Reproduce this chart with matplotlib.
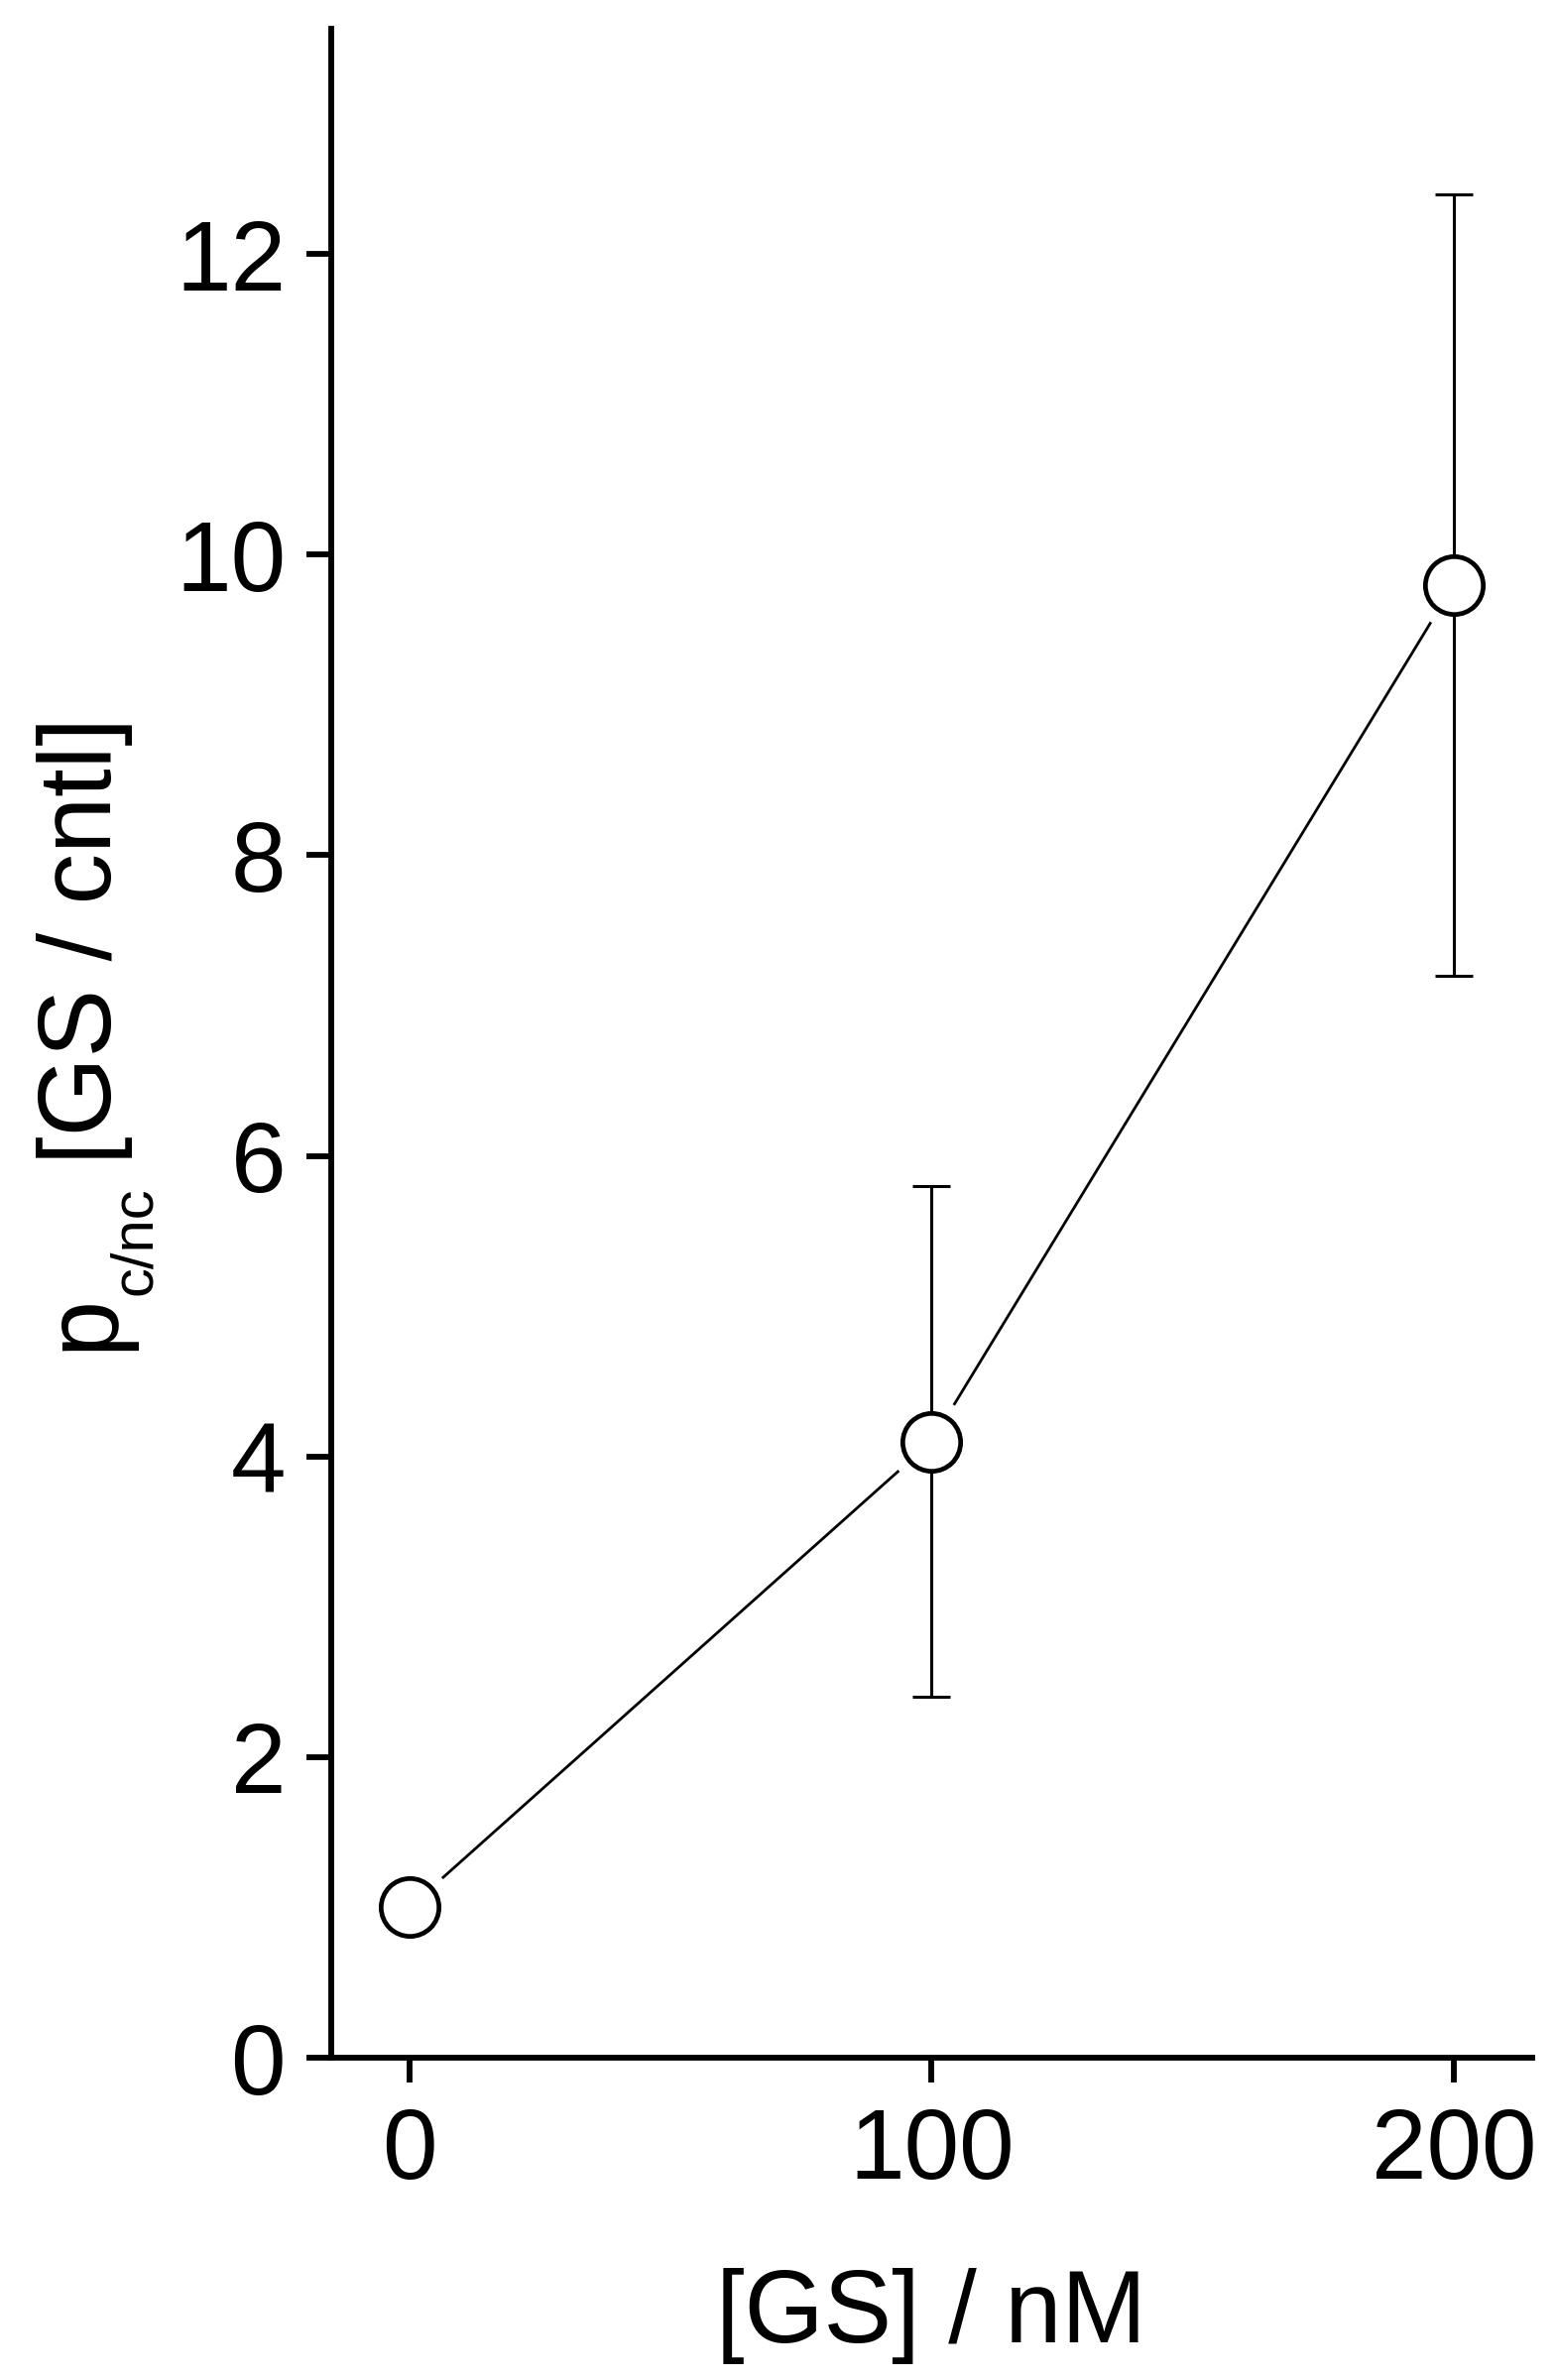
import matplotlib
matplotlib.use("Agg")
import matplotlib.pyplot as plt

plt.rcParams['font.family'] = ['Liberation Sans', 'DejaVu Sans']

# data
gs_conc = [0, 100, 200]
p_ratio = [1.0, 4.1, 9.8]
p_err = [0.0, 1.7, 2.6]

x_ticks = [0, 100, 200]
y_ticks = [0, 2, 4, 6, 8, 10, 12]

W, H = 1570, 2400
fig = plt.figure(figsize=(W / 100, H / 100), dpi=100)
ax = fig.add_axes([0.2127, 0.1354, 0.7713, 0.8526])

# connecting line, with a white halo under the markers to give the gap
ax.plot(gs_conc, p_ratio, color='black', linewidth=2.0, zorder=1)
ax.plot(gs_conc, p_ratio, linestyle='none', marker='o', markersize=62,
        markerfacecolor='white', markeredgecolor='white', zorder=2)
ax.errorbar(gs_conc, p_ratio, yerr=p_err, fmt='none', ecolor='black',
            elinewidth=2.2, capsize=14, capthick=2.2, zorder=3)
ax.plot(gs_conc, p_ratio, linestyle='none', marker='o', markersize=42,
        markerfacecolor='white', markeredgecolor='black',
        markeredgewidth=3.4, zorder=4)

ax.set_xlim(-15, 215)
ax.set_ylim(0, 13.5)
ax.set_xticks(x_ticks)
ax.set_yticks(y_ticks)

for side in ['top', 'right']:
    ax.spines[side].set_visible(False)
for side in ['left', 'bottom']:
    ax.spines[side].set_linewidth(4.2)

ax.tick_params(axis='both', direction='out', length=18, width=4.2,
               labelsize=72)
ax.tick_params(axis='x', pad=17)
ax.tick_params(axis='y', pad=15)

ax.set_xlabel('[GS] / nM', fontsize=74, labelpad=50)

# y label built from pieces so the subscript sits low like the original
lab = dict(rotation=90, rotation_mode='anchor', ha='left', va='baseline')
fig.text(112 / W, 1 - 1362 / H, 'p', fontsize=74, **lab)
fig.text(152 / W, 1 - 1306 / H, 'c/nc', fontsize=43, **lab)
fig.text(112 / W, 1 - 1174 / H, '[GS / cntl]', fontsize=74, **lab)

fig.savefig('out.png', dpi=100, facecolor='white')
